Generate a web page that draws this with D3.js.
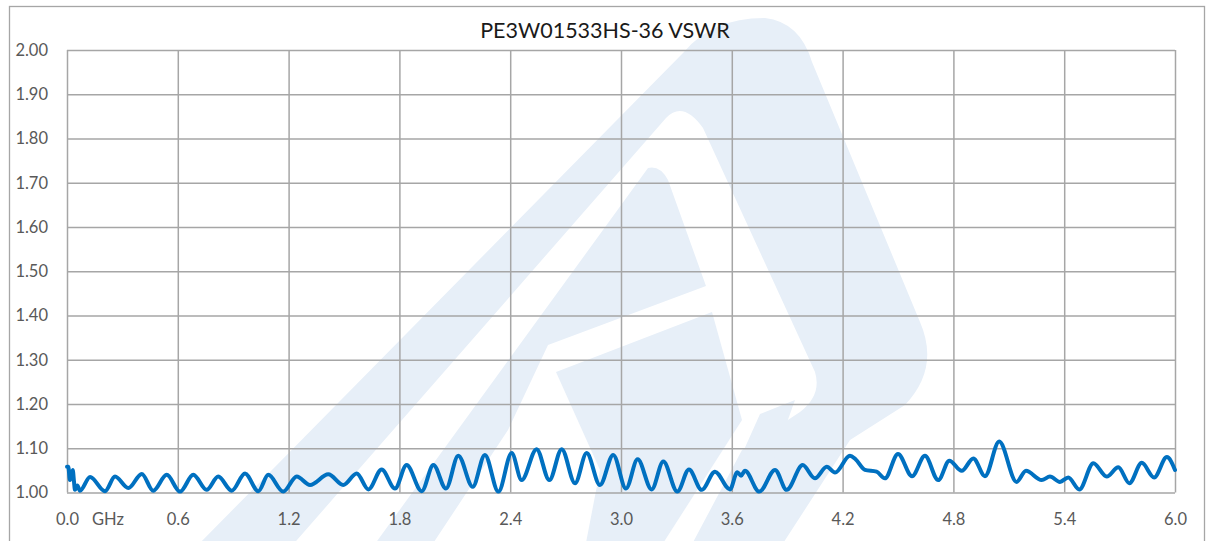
<!DOCTYPE html>
<html>
<head>
<meta charset="utf-8">
<script src="https://cdn.jsdelivr.net/npm/d3@7"></script>
<style>
  body { margin: 0; background: #fff; }
  svg { display: block; font-family: Lato, "Open Sans", sans-serif; }
</style>
</head>
<body>
<svg id="chart" width="1211" height="541"></svg>
<script>
// VSWR trace (peaks/troughs of the ripple)
const freqGHz = [
  0.000, 0.007, 0.016, 0.031, 0.038, 0.043, 0.056, 0.070,
  0.125, 0.206, 0.260, 0.332, 0.405, 0.467, 0.540, 0.612, 0.684, 0.756,
  0.819, 0.892, 0.964, 1.036, 1.090, 1.171, 1.244, 1.316, 1.415, 1.496,
  1.569, 1.632, 1.704, 1.776, 1.839, 1.921, 1.984, 2.052, 2.119, 2.197,
  2.263, 2.336, 2.408, 2.462, 2.543, 2.612, 2.679, 2.751, 2.814, 2.886,
  2.958, 3.027, 3.090, 3.166, 3.229, 3.305, 3.368, 3.437, 3.509, 3.590,
  3.630, 3.650, 3.671, 3.749, 3.834, 3.897, 3.984, 4.050, 4.114, 4.159,
  4.240, 4.270, 4.321, 4.384, 4.429, 4.500, 4.576, 4.646, 4.718, 4.778,
  4.845, 4.908, 4.971, 5.048, 5.142, 5.193, 5.278, 5.323, 5.377, 5.422,
  5.482, 5.558, 5.630, 5.693, 5.753, 5.820, 5.887, 5.956, 6.000
];
const vswr = [
  1.058, 1.058, 1.028, 1.051, 1.024, 1.006, 1.016, 1.004,
  1.035, 1.003, 1.036, 1.010, 1.042, 1.004, 1.040, 1.002, 1.040, 1.006,
  1.036, 1.004, 1.043, 1.003, 1.040, 1.002, 1.036, 1.017, 1.041, 1.017,
  1.043, 1.007, 1.052, 1.009, 1.062, 1.003, 1.062, 1.009, 1.083, 1.013,
  1.085, 1.002, 1.089, 1.028, 1.098, 1.028, 1.098, 1.021, 1.089, 1.017,
  1.085, 1.009, 1.075, 1.007, 1.070, 1.002, 1.052, 1.006, 1.047, 1.007,
  1.046, 1.038, 1.049, 1.002, 1.051, 1.006, 1.062, 1.032, 1.058, 1.045,
  1.083, 1.075, 1.051, 1.047, 1.032, 1.087, 1.037, 1.083, 1.028, 1.072,
  1.049, 1.077, 1.037, 1.115, 1.024, 1.049, 1.028, 1.036, 1.024, 1.034,
  1.007, 1.066, 1.036, 1.057, 1.021, 1.067, 1.034, 1.080, 1.051
];
const xTicks = [0, 0.6, 1.2, 1.8, 2.4, 3.0, 3.6, 4.2, 4.8, 5.4, 6.0];
const yTicks = [1.0, 1.1, 1.2, 1.3, 1.4, 1.5, 1.6, 1.7, 1.8, 1.9, 2.0];
const title = 'PE3W01533HS-36 VSWR';
const unitLabel = 'GHz';

const svg = d3.select('#chart');
const plot = { left: 67, right: 1175, top: 50, bottom: 492.5 };

const x = d3.scaleLinear().domain([0, 6]).range([plot.left, plot.right]);
const y = d3.scaleLinear().domain([1, 2]).range([plot.bottom, plot.top]);

// chart frame
svg.append('rect')
  .attr('x', 9.5).attr('y', 6.5)
  .attr('width', 1195).attr('height', 560)
  .attr('fill', '#fff')
  .attr('stroke', '#a6a6a6').attr('stroke-width', 1.3);

// faint logo watermark behind the plot
const mark = svg.append('g').attr('fill', '#e7eff8');
mark.append('path')
  .attr('fill-rule', 'evenodd')
  .attr('d',
    'M195,548 L684,52 Q712,18 765,18 Q800,22 812,62 L920,322 Q940,368 905,405 L850,440 L780,548 Z ' +
    'M290,548 L666,118 Q683,100 703,128 L815,372 Q822,395 800,412 L742,450 L690,548 Z');
mark.append('path')
  .attr('d', 'M648,168 Q660,165 668,180 L706,286 L548,345 L508,430 L430,548 L372,548 Z');
mark.append('path')
  .attr('d', 'M556,372 L712,312 L742,420 L660,548 L585,548 L600,470 Z');
mark.append('path')
  .attr('d', 'M760,414 L795,400 L770,470 L735,548 L700,548 Z');

// grid + y labels
const yAxis = d3.axisLeft(y).tickValues(yTicks)
  .tickSize(-(plot.right - plot.left)).tickPadding(19)
  .tickFormat(d3.format('.2f'));
const gy = svg.append('g')
  .attr('transform', `translate(${plot.left},0)`)
  .call(yAxis);
gy.select('.domain').remove();

const xAxis = d3.axisBottom(x).tickValues(xTicks)
  .tickSize(-(plot.bottom - plot.top)).tickPadding(21)
  .tickFormat(d3.format('.1f'));
const gx = svg.append('g')
  .attr('transform', `translate(0,${plot.bottom})`)
  .call(xAxis);
gx.select('.domain').remove();

svg.selectAll('.tick line').attr('stroke', '#a6a6a6').attr('stroke-width', 1.5);
svg.selectAll('.tick text')
  .attr('fill', '#595959')
  .style('font-family', 'Lato, sans-serif')
  .style('font-size', '16.5px');

svg.append('text')
  .attr('x', 92).attr('y', 524.5)
  .attr('fill', '#595959')
  .style('font-size', '16.5px')
  .text(unitLabel);

svg.append('text')
  .attr('x', 605).attr('y', 38)
  .attr('text-anchor', 'middle')
  .attr('fill', '#1a1a1a')
  .style('font-size', '21.5px')
  .text(title);

const pts = freqGHz.map((f, i) => [f, vswr[i]]);
const line = d3.line()
  .x(d => x(d[0]))
  .y(d => y(d[1]))
  .curve(d3.curveMonotoneX);

svg.append('path')
  .datum(pts)
  .attr('fill', 'none')
  .attr('stroke', '#0070c0')
  .attr('stroke-width', 4)
  .attr('stroke-linejoin', 'round')
  .attr('stroke-linecap', 'round')
  .attr('d', line);
</script>
</body>
</html>
